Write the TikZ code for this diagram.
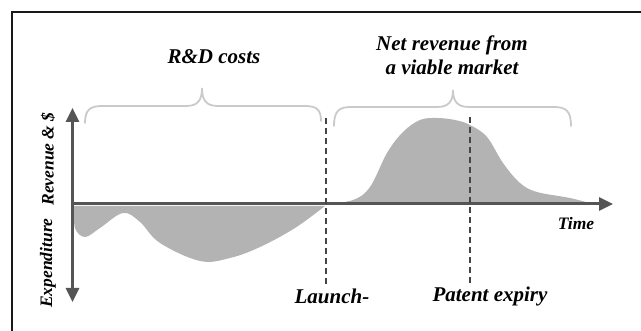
\documentclass[tikz,border=0pt]{standalone}
\usepackage{fontspec}
\setmainfont{Liberation Serif}
\usetikzlibrary{arrows.meta}

\definecolor{axisgray}{HTML}{555555}
\definecolor{areagray}{HTML}{B3B3B3}
\definecolor{bracegray}{HTML}{CACACA}
\definecolor{markgray}{HTML}{444444}

\begin{document}
\begin{tikzpicture}[
    x=1pt, y=-1pt,
    >={Triangle[length=14pt, width=13pt]},
    frame/.style={draw=black!90, line width=2pt},
    axis/.style={draw=axisgray, line width=3pt},
    area/.style={fill=areagray, draw=none},
    bracket/.style={draw=bracegray, line width=1.8pt, line cap=round},
    marker/.style={draw=markgray, line width=1.3pt, dash pattern=on 6pt off 4pt},
    label/.style={font=\bfseries\itshape\fontsize{21}{24}\selectfont, align=center, inner sep=1pt},
    small/.style={font=\bfseries\itshape\fontsize{17.5}{20}\selectfont, inner sep=1pt}
]
    \clip (0,0) rectangle (641,331);
    \draw[frame] (12,12) rectangle (660,350);

    % areas under the curve
    \fill[area] plot[smooth, tension=0.6] coordinates {(74,206) (75,228) (85,237) (100,228) (123,213) (140,222) (160,243) (200,261) (230,258) (260,247) (295,228) (325,206)} -- cycle;
    \fill[area] plot[smooth, tension=0.6] coordinates {(326,204) (353,200) (370,187) (387,153) (403,132) (420,120) (437,118) (455,120) (470,125) (487,137) (503,163) (520,183) (537,192) (570,198) (593,204)} -- cycle;

    % axes
    \coordinate (ytop) at (72.5,108);
    \coordinate (ybot) at (72.5,302);
    \coordinate (origin) at (72.5,204);
    \coordinate (xend) at (613,204);
    \draw[axis, <->] (ytop) -- (ybot);
    \draw[axis, ->] (origin) -- (xend);

    % braces
    \draw[bracket] (85,123) .. controls (85,110) and (90,106) .. (102,106) -- (186,106) .. controls (198,106) and (202,100) .. (202,88) .. controls (202,100) and (206,106) .. (218,106) -- (305,106) .. controls (317,106) and (321,110) .. (321,121);
    \draw[bracket] (334,126) .. controls (334,111) and (339,107) .. (351,107) -- (437,107) .. controls (449,107) and (453,101) .. (453,90) .. controls (453,101) and (457,107) .. (469,107) -- (554,107) .. controls (566,107) and (571,111) .. (571,126);

    \node[label] (rd) at (214,57) {R\&D costs};
    \node[label] (net) at (452,55) {Net revenue from\\a viable market};
    \node[label] (launch) at (332,296) {Launch-};
    \node[label] (patent) at (490,296) {Patent expiry};
    \node[small] (time) at (576,224) {Time};
    \node[small, rotate=90] (rev) at (48,159) {Revenue \& \$};
    \node[small, rotate=90] (exp) at (48,263) {Expenditure};

    % launch and patent expiry
    \coordinate (launchtop) at (326,118);
    \coordinate (patenttop) at (470,117);
    \draw[marker] (launchtop) -- (launchtop |- launch.north);
    \draw[marker] (patenttop) -- (patenttop |- patent.north);
\end{tikzpicture}
\end{document}
